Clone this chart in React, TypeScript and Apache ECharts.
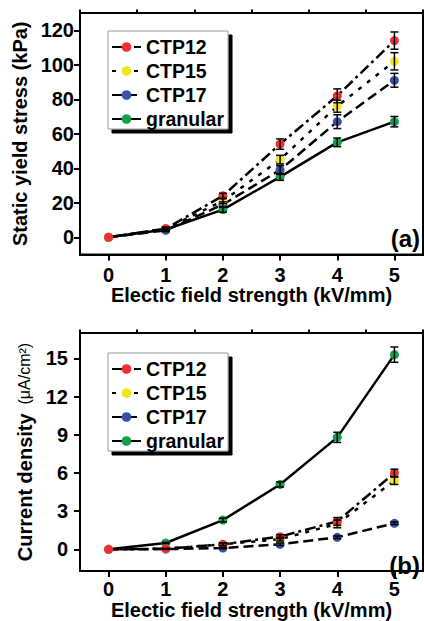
import React, { useEffect, useRef } from "react";
import * as echarts from "echarts";

const fieldX = [0, 1, 2, 3, 4, 5];
const seriesNames = ["CTP12", "CTP15", "CTP17", "granular"];
const seriesColors = ["#ec2f35", "#f2e51a", "#3652a8", "#12a04e"];

// (a) Static yield stress (kPa)
const stressCTP12 = [0, 5, 24, 54, 82, 114];
const stressCTP15 = [0, 5, 21, 45, 76, 102];
const stressCTP17 = [0, 4, 19, 39, 67, 91];
const stressGranular = [0, 4.5, 16, 35, 55, 67];
const stressErrCTP12 = [0, 0.8, 1.5, 3, 4, 5];
const stressErrCTP15 = [0, 0.8, 1.5, 2.5, 3.5, 5];
const stressErrCTP17 = [0, 0.8, 1.5, 2.5, 4, 4];
const stressErrGranular = [0, 0.8, 1.5, 2, 2.5, 3];

// (b) Current density (uA/cm2)
const currentCTP12 = [0, 0.05, 0.4, 1.0, 2.2, 6.0];
const currentCTP15 = [0, 0.05, 0.4, 0.8, 2.0, 5.4];
const currentCTP17 = [0, 0.02, 0.1, 0.4, 0.95, 2.05];
const currentGranular = [0, 0.5, 2.3, 5.1, 8.8, 15.3];
const currentErrCTP12 = [0, 0.02, 0.1, 0.15, 0.3, 0.3];
const currentErrCTP15 = [0, 0.02, 0.1, 0.15, 0.3, 0.3];
const currentErrCTP17 = [0, 0.02, 0.05, 0.1, 0.1, 0.1];
const currentErrGranular = [0, 0.05, 0.15, 0.2, 0.4, 0.6];

const xMajorTicks = [0, 1, 2, 3, 4, 5];
const xMinorTicks = [-0.5, 0.5, 1.5, 2.5, 3.5, 4.5, 5.5];
const stressMajorTicks = [0, 20, 40, 60, 80, 100, 120];
const stressMinorTicks = [-10, 10, 30, 50, 70, 90, 110, 130];
const currentMajorTicks = [0, 3, 6, 9, 12, 15];
const currentMinorTicks = [-1.5, 1.5, 4.5, 7.5, 10.5, 13.5, 16.5];

const lineTypes: any[] = [[11, 4, 3, 4], [4, 7], [10, 5], "solid"];

const FONT = "'Liberation Sans', Arial, sans-serif";

export default function App() {
  const ref = useRef<HTMLDivElement>(null);
  useEffect(() => {
    if (!ref.current) return;
    const chart = echarts.init(ref.current, undefined, { renderer: "svg" });

    const stressVals = [stressCTP12, stressCTP15, stressCTP17, stressGranular];
    const stressErrs = [stressErrCTP12, stressErrCTP15, stressErrCTP17, stressErrGranular];
    const currentVals = [currentCTP12, currentCTP15, currentCTP17, currentGranular];
    const currentErrs = [currentErrCTP12, currentErrCTP15, currentErrCTP17, currentErrGranular];

    const errRender = (params: any, api: any) => {
      const x = api.value(0);
      const y = api.value(1);
      const e = api.value(2);
      if (!e) return null;
      const t = api.coord([x, y + e]);
      const b = api.coord([x, y - e]);
      const w = 4;
      const st = { stroke: "#000", lineWidth: 1.5 };
      return {
        type: "group",
        children: [
          { type: "line", shape: { x1: t[0], y1: t[1], x2: b[0], y2: b[1] }, style: st },
          { type: "line", shape: { x1: t[0] - w, y1: t[1], x2: t[0] + w, y2: t[1] }, style: st },
          { type: "line", shape: { x1: b[0] - w, y1: b[1], x2: b[0] + w, y2: b[1] }, style: st },
        ],
      };
    };

    const series: any[] = [];
    const build = (vals: number[][], errs: number[][], axisIdx: number) => {
      seriesNames.forEach((name, i) => {
        series.push({
          type: "custom",
          name: name + "_err",
          xAxisIndex: axisIdx,
          yAxisIndex: axisIdx,
          renderItem: errRender,
          data: fieldX.map((x, j) => [x, vals[i][j], errs[i][j]]),
          encode: { x: 0, y: 1 },
          z: 3,
          silent: true,
        });
      });
      seriesNames.forEach((name, i) => {
        series.push({
          type: "line",
          name,
          xAxisIndex: axisIdx,
          yAxisIndex: axisIdx,
          data: fieldX.map((x, j) => [x, vals[i][j]]),
          symbol: "circle",
          symbolSize: 9,
          itemStyle: { color: seriesColors[i] },
          lineStyle: { color: "#000", width: 2.5, type: lineTypes[i] },
          z: 2 + (3 - i) * 0.1,
        });
      });
    };
    build(stressVals, stressErrs, 0);
    build(currentVals, currentErrs, 2);

    const grids = [
      { left: 80, top: 13, width: 343, height: 241.5 },
      { left: 80, top: 333, width: 343, height: 244 },
    ];

    const labelStyle = { color: "#000", fontWeight: "bold", fontSize: 20, fontFamily: FONT };

    const xMajor = (gridIndex: number, margin: number, gap: number) => ({
      type: "value",
      gridIndex,
      min: -0.5,
      max: 5.5,
      name: "Electic field strength (kV/mm)",
      nameLocation: "middle",
      nameGap: gap,
      nameTextStyle: { ...labelStyle },
      axisLine: { show: true, onZero: false, lineStyle: { color: "#000", width: 2 } },
      axisTick: { show: true, customValues: xMajorTicks, length: 6, lineStyle: { color: "#000", width: 2 } },
      axisLabel: { show: true, customValues: xMajorTicks, margin, ...labelStyle },
      splitLine: { show: false },
    });
    const xMinor = (gridIndex: number) => ({
      type: "value",
      gridIndex,
      min: -0.5,
      max: 5.5,
      axisLine: { show: false, onZero: false },
      axisTick: { show: true, customValues: xMinorTicks, length: 3.5, lineStyle: { color: "#000", width: 2 } },
      axisLabel: { show: false },
      splitLine: { show: false },
    });
    const yMajor = (gridIndex: number, min: number, max: number, ticks: number[], name: string, gap: number, margin: number, rich?: any) => ({
      type: "value",
      gridIndex,
      min,
      max,
      name,
      nameLocation: "middle",
      nameRotate: 90,
      nameGap: gap,
      nameTextStyle: { ...labelStyle, rich },
      axisLine: { show: true, onZero: false, lineStyle: { color: "#000", width: 2 } },
      axisTick: { show: true, customValues: ticks, length: 6, lineStyle: { color: "#000", width: 2 } },
      axisLabel: { show: true, customValues: ticks, margin, ...labelStyle },
      splitLine: { show: false },
    });
    const yMinor = (gridIndex: number, min: number, max: number, ticks: number[]) => ({
      type: "value",
      gridIndex,
      min,
      max,
      axisLine: { show: false, onZero: false },
      axisTick: { show: true, customValues: ticks, length: 3.5, lineStyle: { color: "#000", width: 2 } },
      axisLabel: { show: false },
      splitLine: { show: false },
    });

    const legendBase = {
      orient: "vertical",
      left: 108,
      data: seriesNames,
      itemWidth: 29,
      itemHeight: 12,
      itemGap: 4,
      padding: [6, 4, 0, 3],
      borderColor: "#999",
      borderWidth: 1,
      backgroundColor: "#fff",
      shadowColor: "#000",
      shadowBlur: 0,
      shadowOffsetX: 4,
      shadowOffsetY: 4,
      selectedMode: false,
      textStyle: { color: "#000", fontWeight: "bold", fontSize: 19.5, fontFamily: FONT, lineHeight: 20, padding: [0, 0, 0, 0] },
    };

    chart.setOption({
      animation: false,
      backgroundColor: "#fff",
      textStyle: { fontFamily: FONT },
      grid: grids.map((g) => ({ ...g, show: true, borderColor: "#000", borderWidth: 2, backgroundColor: "transparent" })),
      xAxis: [xMajor(0, 10, 28), xMinor(0), xMajor(1, 8, 29), xMinor(1)],
      yAxis: [
        yMajor(0, -10, 130, stressMajorTicks, "Static yield stress (kPa)", 50, 6),
        yMinor(0, -10, 130, stressMinorTicks),
        yMajor(1, -1.7, 17, currentMajorTicks, "{b|Current density}{n|  (μA/cm²)}", 42, 12, {
          b: { fontWeight: "bold", fontSize: 20, fontFamily: FONT, color: "#000" },
          n: { fontWeight: "normal", fontSize: 16, fontFamily: FONT, color: "#000" },
        }),
        yMinor(1, -1.7, 17, currentMinorTicks),
      ],
      legend: [
        { ...legendBase, top: 31 },
        { ...legendBase, top: 353 },
      ],
      graphic: [
        { type: "text", right: 4, top: 226, style: { text: "(a)", fill: "#000", font: `bold 24px ${FONT}` } },
        { type: "text", right: 4, top: 553, style: { text: "(b)", fill: "#000", font: `bold 24px ${FONT}` } },
      ],
      series,
    });

    return () => chart.dispose();
  }, []);

  return <div ref={ref} style={{ position: "absolute", left: 0, top: 0, width: 424, height: 621 }} />;
}
